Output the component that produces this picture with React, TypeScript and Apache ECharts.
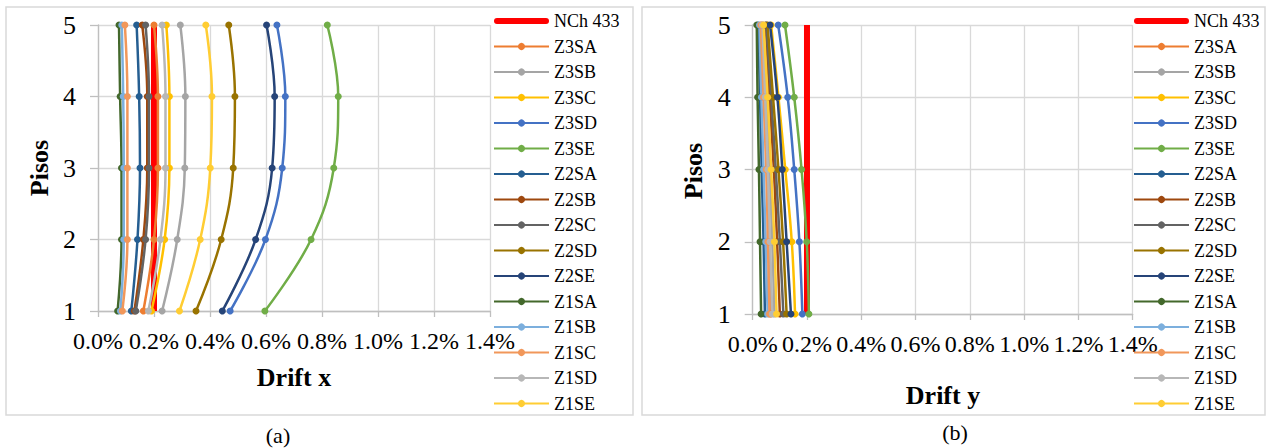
import React, { useEffect, useRef } from "react";
import * as echarts from "echarts";

// floors (y axis)
const floors = [1, 2, 3, 4, 5];

const seriesNames = [
  "NCh 433", "Z3SA", "Z3SB", "Z3SC", "Z3SD", "Z3SE",
  "Z2SA", "Z2SB", "Z2SC", "Z2SD", "Z2SE",
  "Z1SA", "Z1SB", "Z1SC", "Z1SD", "Z1SE",
];
const seriesColors = [
  "#FF0000", "#ED7D31", "#A5A5A5", "#FFC000", "#4472C4", "#70AD47",
  "#255E91", "#9E480E", "#636363", "#997300", "#264478",
  "#43682B", "#7CAFDD", "#F1975A", "#B7B7B7", "#FFCD33",
];

// Drift x (%) per floor 1..5
const nchX = [0.2, 0.2, 0.2, 0.2, 0.2];
const x_Z3SA = [0.162, 0.2, 0.214, 0.214, 0.2];
const x_Z3SB = [0.229, 0.283, 0.31, 0.312, 0.294];
const x_Z3SC = [0.191, 0.238, 0.255, 0.255, 0.244];
const x_Z3SD = [0.472, 0.598, 0.658, 0.669, 0.639];
const x_Z3SE = [0.596, 0.761, 0.842, 0.858, 0.819];
const x_Z2SA = [0.119, 0.141, 0.15, 0.147, 0.138];
const x_Z2SB = [0.13, 0.162, 0.176, 0.176, 0.158];
const x_Z2SC = [0.135, 0.17, 0.182, 0.182, 0.17];
const x_Z2SD = [0.35, 0.44, 0.483, 0.489, 0.467];
const x_Z2SE = [0.444, 0.563, 0.622, 0.631, 0.602];
const x_Z1SA = [0.07, 0.084, 0.084, 0.079, 0.075];
const x_Z1SB = [0.08, 0.092, 0.092, 0.09, 0.085];
const x_Z1SC = [0.087, 0.105, 0.105, 0.105, 0.096];
const x_Z1SD = [0.18, 0.223, 0.241, 0.241, 0.229];
const x_Z1SE = [0.291, 0.365, 0.401, 0.407, 0.385];

// Drift y (%) per floor 1..5
const nchY = [0.2, 0.2, 0.2, 0.2, 0.2];
const y_Z3SA = [0.066, 0.06, 0.052, 0.043, 0.033];
const y_Z3SB = [0.08, 0.072, 0.062, 0.05, 0.038];
const y_Z3SC = [0.156, 0.144, 0.12, 0.095, 0.068];
const y_Z3SD = [0.183, 0.172, 0.153, 0.129, 0.094];
const y_Z3SE = [0.207, 0.199, 0.18, 0.153, 0.119];
const y_Z2SA = [0.045, 0.04, 0.033, 0.027, 0.02];
const y_Z2SB = [0.1, 0.09, 0.078, 0.062, 0.048];
const y_Z2SC = [0.113, 0.1, 0.085, 0.068, 0.05];
const y_Z2SD = [0.125, 0.112, 0.095, 0.075, 0.055];
const y_Z2SE = [0.141, 0.125, 0.109, 0.091, 0.064];
const y_Z1SA = [0.031, 0.027, 0.023, 0.018, 0.015];
const y_Z1SB = [0.055, 0.048, 0.04, 0.032, 0.025];
const y_Z1SC = [0.062, 0.056, 0.05, 0.04, 0.03];
const y_Z1SD = [0.072, 0.064, 0.056, 0.046, 0.036];
const y_Z1SE = [0.088, 0.08, 0.068, 0.055, 0.04];

const driftXList = [nchX, x_Z3SA, x_Z3SB, x_Z3SC, x_Z3SD, x_Z3SE, x_Z2SA, x_Z2SB, x_Z2SC, x_Z2SD, x_Z2SE, x_Z1SA, x_Z1SB, x_Z1SC, x_Z1SD, x_Z1SE];
const driftYList = [nchY, y_Z3SA, y_Z3SB, y_Z3SC, y_Z3SD, y_Z3SE, y_Z2SA, y_Z2SB, y_Z2SC, y_Z2SD, y_Z2SE, y_Z1SA, y_Z1SB, y_Z1SC, y_Z1SD, y_Z1SE];

const FONT = "Liberation Serif";

function buildSeries(list: number[][], axisIndex: number) {
  return list.map((vals, i) => {
    const isLimit = i === 0;
    return {
      type: "line",
      name: seriesNames[i],
      xAxisIndex: axisIndex,
      yAxisIndex: axisIndex,
      data: floors.map((f, k) => [vals[k], f]),
      smooth: isLimit ? false : 0.4,
      symbol: isLimit ? "none" : "circle",
      symbolSize: 7,
      color: seriesColors[i],
      lineStyle: { width: isLimit ? 6 : 2.5, color: seriesColors[i] },
      itemStyle: { color: seriesColors[i] },
      emphasis: { disabled: true },
    };
  });
}

function xAxisCfg(gridIndex: number) {
  return {
    type: "value",
    gridIndex,
    min: 0,
    max: 1.4,
    interval: 0.2,
    axisLine: { show: true, lineStyle: { color: "#BFBFBF", width: 1.3 } },
    axisTick: { show: true, length: 6, lineStyle: { color: "#BFBFBF", width: 1.3 } },
    splitLine: { show: true, lineStyle: { color: "#D9D9D9", width: 1.3 } },
    axisLabel: {
      fontFamily: FONT,
      fontSize: 24,
      color: "#000",
      margin: 18,
      formatter: (v: number) => v.toFixed(1) + "%",
    },
  };
}

function yAxisCfg(gridIndex: number) {
  return {
    type: "value",
    gridIndex,
    min: 1,
    max: 5,
    interval: 1,
    axisLine: { show: true, lineStyle: { color: "#BFBFBF", width: 1.3 } },
    axisTick: { show: true, length: 8, lineStyle: { color: "#BFBFBF", width: 1.3 } },
    splitLine: { show: true, lineStyle: { color: "#D9D9D9", width: 1.3 } },
    axisLabel: { fontFamily: FONT, fontSize: 26, color: "#000", margin: 22 },
  };
}

const limitIcon = "path://M3,0 L52,0 A3,3 0 0 1 52,6 L3,6 A3,3 0 0 1 3,0 Z";

function legendCfg(left: number) {
  return {
    orient: "vertical",
    left,
    top: 12,
    padding: 0,
    itemWidth: 55,
    itemHeight: 9,
    itemGap: 7.5,
    selectedMode: false,
    data: seriesNames.map((n, i) =>
      i === 0 ? { name: n, icon: limitIcon, itemStyle: { color: seriesColors[0] } } : { name: n }
    ),
    textStyle: { fontFamily: FONT, fontSize: 18, lineHeight: 18, color: "#000" },
  };
}

export default function App() {
  const ref = useRef<HTMLDivElement>(null);
  useEffect(() => {
    if (!ref.current) return;
    const chart = echarts.init(ref.current, undefined, { renderer: "svg" });
    const titleFont = `bold 26px ${FONT}`;
    const option = {
      animation: false,
      backgroundColor: "#fff",
      textStyle: { fontFamily: FONT },
      grid: [
        { left: 98, top: 25, width: 392, height: 286 },
        { left: 752.7, top: 25, width: 380, height: 289 },
      ],
      xAxis: [xAxisCfg(0), xAxisCfg(1)],
      yAxis: [yAxisCfg(0), yAxisCfg(1)],
      legend: [legendCfg(493), legendCfg(1133)],
      series: [...buildSeries(driftXList, 0), ...buildSeries(driftYList, 1)],
      graphic: [
        { type: "rect", shape: { x: 6, y: 7, width: 627, height: 408 }, style: { fill: "none", stroke: "#D9D9D9", lineWidth: 1.5 }, z: -1 },
        { type: "rect", shape: { x: 642, y: 7, width: 623, height: 408 }, style: { fill: "none", stroke: "#D9D9D9", lineWidth: 1.5 }, z: -1 },
        { type: "text", x: 39, y: 168, rotation: Math.PI / 2, style: { text: "Pisos", font: titleFont, fill: "#000", align: "center", verticalAlign: "middle" } },
        { type: "text", x: 693, y: 171, rotation: Math.PI / 2, style: { text: "Pisos", font: titleFont, fill: "#000", align: "center", verticalAlign: "middle" } },
        { type: "text", x: 294, y: 377, style: { text: "Drift x", font: titleFont, fill: "#000", align: "center", verticalAlign: "middle" } },
        { type: "text", x: 943, y: 395, style: { text: "Drift y", font: titleFont, fill: "#000", align: "center", verticalAlign: "middle" } },
        { type: "text", x: 278, y: 435, style: { text: "(a)", font: `22px ${FONT}`, fill: "#000", align: "center", verticalAlign: "middle" } },
        { type: "text", x: 955, y: 432, style: { text: "(b)", font: `22px ${FONT}`, fill: "#000", align: "center", verticalAlign: "middle" } },
      ],
    };
    chart.setOption(option as any);
    return () => chart.dispose();
  }, []);
  return (
    <div
      ref={ref}
      style={{ position: "absolute", left: 0, top: 0, width: 1266, height: 448, background: "#fff" }}
    />
  );
}
